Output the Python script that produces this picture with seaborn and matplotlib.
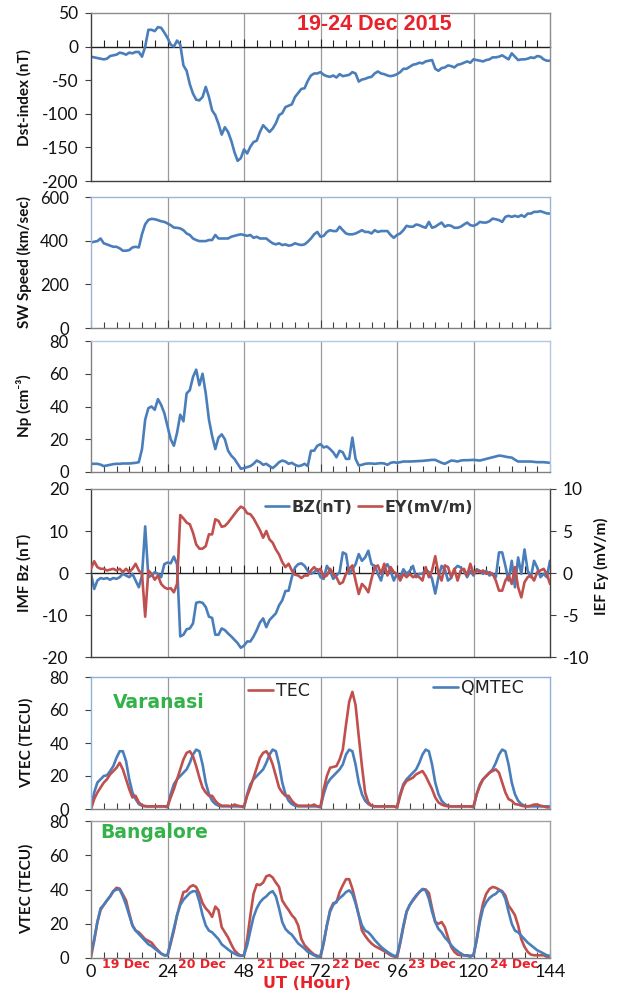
import numpy as np
import pandas as pd
import matplotlib
matplotlib.use("Agg")
import matplotlib.pyplot as plt
import matplotlib.transforms as mtransforms
from matplotlib.ticker import MultipleLocator
import seaborn as sns

# ---------------- data ----------------
hours = list(range(145))

dst = [-15,-16,-17,-18,-19,-18,-14,-13,-12,-9,
       -10,-12,-9,-10,-8,-8,-15,0,25,25,
       23,29,28,21,13,3,0,9,3,-28,
       -36,-56,-70,-79,-80,-75,-60,-75,-95,-102,
       -115,-131,-120,-127,-140,-157,-170,-166,-153,-159,
       -149,-142,-140,-127,-117,-122,-127,-122,-114,-102,
       -99,-90,-88,-86,-75,-69,-63,-62,-51,-43,
       -40,-40,-38,-42,-44,-45,-43,-46,-41,-44,
       -43,-42,-38,-40,-52,-49,-48,-46,-45,-40,
       -37,-40,-41,-43,-44,-43,-41,-38,-33,-33,
       -30,-27,-26,-24,-25,-22,-21,-20,-33,-36,
       -32,-31,-28,-29,-31,-27,-26,-24,-22,-24,
       -19,-20,-21,-22,-20,-19,-16,-16,-15,-13,
       -16,-19,-10,-15,-20,-19,-19,-18,-16,-17,
       -14,-15,-19,-21,-21]

sw_speed = [392,395,398,410,388,383,377,372,372,365,
            354,354,357,369,372,369,430,475,495,500,
            498,494,489,486,479,471,460,459,456,448,
            433,426,410,403,398,398,398,403,403,426,
            410,410,410,410,418,422,426,429,426,422,
            426,413,418,410,410,410,398,388,383,388,
            380,383,377,380,388,383,380,383,395,410,
            429,440,418,422,440,448,444,444,464,448,
            433,429,429,433,440,448,440,440,433,448,
            440,444,444,444,426,413,426,433,448,468,
            464,464,474,471,464,459,486,459,464,474,
            483,464,471,468,459,459,464,474,483,471,
            468,474,486,483,483,489,501,498,494,486,
            509,514,509,514,509,517,509,524,524,532,
            532,535,530,525,524]

np_density = [5,5,5,4.5,3.6,4,4.4,4.8,5,5,
              5.2,5.2,5.2,5.4,5.6,6,14,32,39,40,
              38,44.5,41,36,28,20,16,24,35,31,
              48,50,58,62.5,53,60,48,32,22,14,
              21,23,20,13,10,8,5,2,2.4,3,
              3.6,5,7,6,4.4,5,3.6,2.4,4,6,
              7,6.4,5,5.6,4.4,3.6,4,5,3.6,13,
              13,16,17,15,15.6,14,12,9,13,12,
              8,8,21,8,4,4.4,5,5.2,5.2,5,
              5.2,5.4,5.2,4.4,5.6,6,5.6,6,6.4,6.4,
              6.4,6.5,6.6,6.7,6.8,7,7.2,7.4,7.4,6.5,
              5.6,5,6,7,6.8,6.4,7,7.2,7.2,7.3,
              7.4,7.2,7,7.5,8,8.5,9,9.5,10,9.8,
              9.4,9,8.8,7.5,6.4,6.4,6.4,6.4,6.4,6.2,
              6,6,6,5.8,5.6]

imf_bz = [-0.2,-3.8,-1.8,-1.2,-1.4,-1.2,-1.6,-1.2,-1.4,-1,
          -0.2,-0.6,-1,-0.2,-1.8,-3.4,-0.6,11.1,-1,-0.6,
          0.2,-0.2,-1,2.1,2.5,2.3,3.9,2.1,-15.1,-14.7,
          -13.4,-13.2,-12,-7.1,-6.9,-7.1,-8.1,-10.4,-10.7,-14.7,
          -14.7,-13.2,-13.6,-14.4,-15.1,-15.9,-16.7,-17.8,-17.3,-16.3,
          -16.3,-15.1,-13.6,-11.8,-10.8,-12.9,-11.2,-10.4,-9.6,-7.7,
          -6.5,-4.3,-4.2,-1,1.3,2.1,2.3,1.7,0.5,-0.2,
          0.2,0.9,-1,-1.4,1.7,0.5,-1.4,-0.6,0.2,4.9,
          4.5,-0.2,0.9,2.1,4.5,2.9,3.7,5.3,2.1,1.7,
          -0.2,-1.8,1.3,2.1,0.5,-1.8,-0.2,-1,0.9,-0.2,
          0.5,1.7,-1,-0.2,-0.2,0.9,0.2,-1.4,-4.9,-1,
          1.7,0.9,-1.8,-1.2,0.9,1.7,1.3,0.5,-1,0.5,
          -0.6,0.9,0.5,-0.2,0.5,-0.6,-0.2,-1,4.9,4.9,
          1.7,-1.8,2.9,-3.4,3.7,-0.2,5.6,0.5,-1,2.9,
          1.3,-1,-0.2,-1,2.9]

ief_ey = [0.5,1.4,0.7,0.5,0.5,0.3,0.4,0.5,0.3,0.5,
          0.1,0.5,0.1,0.5,1.1,0.3,-0.1,-5.2,0.3,-0.1,
          -0.8,-0.3,-1.3,-1.7,-1.9,-1.8,-2.3,-1.3,6.9,6.5,
          6,5.8,4.8,3.4,2.9,2.9,3.2,4.6,4.6,6.4,
          6.2,5.5,5.6,6,6.5,7,7.5,7.9,7.7,7.1,
          7,6.5,5.8,5.1,4.2,5,4,3.6,2.8,2.2,
          1.3,0.7,1.1,0.3,-0.2,-0.3,-0.6,-0.3,-0.3,0.3,
          0.7,0.3,0.5,-0.5,-0.3,0.5,-0.1,-0.5,-1.3,-1.1,
          -0.1,0.5,0.9,-0.9,-2.5,-1.3,-1.7,-2.3,-0.7,0.7,
          0.9,-0.1,1.1,-0.3,0.7,0.1,-0.1,-0.9,-0.1,-0.5,
          -0.1,-0.5,-0.3,-0.5,-0.9,0.7,-0.5,0.3,2,-0.1,
          -0.9,0.9,0.7,-0.5,0.5,-0.9,0.3,0.5,-0.3,1.1,
          -0.1,0.3,0.1,0.3,-0.1,0.1,-0.1,-0.9,-2.1,-2.1,
          -0.9,-0.3,-1.3,0.7,-1.7,-2.9,-1.1,-0.5,-0.3,-0.9,
          0.1,0.3,0.5,-0.1,-1.3]

tec_varanasi = [0,6,10,13,16,18,21,23,25,28,24,18,12,7,8,4,2.2,1.8,1.6,1.6,1.6,1.6,1.6,1.6,
                1.6,7,12,18,24,30,34,35,32,26,19,13,10,8,8,5,3,2,2,2,1.6,2.7,2,1.6,
                1.6,8,13,19,25,31,34,35,32,27,20,13,10,8,8,5,3,2,2,2,2,2,2.7,1.6,
                1.6,12,20,25,25.5,26,30,36,51,65,71,63,44,26,10,4,2,1.6,1.6,1.6,1.6,1.6,1.6,1.6,
                1,8,14,17,18,19,21,22,23,20,16,12,7,4,2.7,2,1.6,1.6,1.6,1.6,1.6,1.6,1.6,1.6,
                1.6,9,14,18,20,22,23,24,22,16,10,6,5,3,2.7,2,1.6,1.6,2,2.7,2.7,2,1.6,1,
                1]

qmtec_varanasi = [0,10,16,18,20,20.4,23,26,31,35,35,29,18,10,6,3,2,1.6,1.6,1.6,1.6,1.6,1.6,1.6,
                  1,9,15,18,20,22,24,28,33,36,35,27,16,9,5,3,2,1.6,1.6,1.6,1.6,1.6,1.6,1.6,
                  1,9,15,18,20,22,24,28,33,36,35,27,16,9,5,3,2,1.6,1.6,1.6,1.6,1.6,1.6,1.6,
                  1,9,15,18,20,22,24,27,33,36,35,27,16,9,5,3,2,1.6,1.6,1.6,1.6,1.6,1.6,1.6,
                  1,9,15,18,20,22,24,28,33,36,35,27,16,9,5,3,2,1.6,1.6,1.6,1.6,1.6,1.6,1.6,
                  1,9,15,18,20,22,24,28,33,36,35,27,16,9,5,3,2,1.6,1.6,1.6,1.6,1.6,1.6,1.6,
                  1.6]

tec_bangalore = [0.7,10,21,28,31,33.6,36,39,41,40.5,37,33.6,26,19,16,15,13,11,10,9,6.5,4.5,2.6,1.6,
                 1.6,8.5,16,25,32,38.5,39,41.5,42.5,41.5,37.5,32,29,27,24,30,28,18,15,12,8,4.5,2.6,1.3,
                 1.6,11,25,37.5,43,42.6,44,47.7,48.4,47,44,41.5,33.6,30.6,28,25,23,19,11,7.5,5.5,3.6,2,1.3,
                 0.7,8.5,19,28,32,32.5,38.5,42.5,46,46,40.5,33,25,16,13,10.5,8.5,7,6,5,4,2.8,1.6,0.9,
                 0.1,8.5,18,27,31,33.6,36,38.5,40.3,40,38,29,21,20,21,18,12,6.5,3.6,2,1.6,1.6,1.6,1.3,
                 1.6,11,23,32,37.5,40.3,41.5,41,40,39,36.5,30.6,28,25,19,11,6.5,3.6,2,1.6,1.6,1.6,1.6,0.7,
                 0.7]

qmtec_bangalore = [2.6,11,21,29,31,33.6,36,39,40,40,36,31,25,19,16,14,12,10,8,7,5.5,4,2.6,1.6,
                   1.6,9.4,17,25,31,34,36,38,39,39,33,25,19,16,15,13,11,8,6.5,5,3.6,2.6,1.6,1.3,
                   1.6,7.5,16,24,29,32.5,34.6,36,38,39,36,29,21,17,15,13.6,11,8.5,7,5.5,3.6,2.6,1.6,0.7,
                   1.3,9.4,19,27,31,33,35,36.5,38.5,39.5,37.5,32,25,19,16,15,13,10.5,8.5,6.5,5,3.6,2.4,1.3,
                   1.3,9.4,19,27,31,34,36.5,38.5,40,39.5,34.6,27,21,17,15,12,10,7.5,5.5,4,2.6,1.6,1.3,0.7,
                   1.6,10.4,21,29,32.6,35,36.5,37.5,39.5,38.5,34.6,27,20,16,15,13,11,9,7.5,6,4.5,3.6,2.6,1.6,
                   1.3]

day_labels = ["19 Dec", "20 Dec", "21 Dec", "22 Dec", "23 Dec", "24 Dec"]
x_ticks = [0, 24, 48, 72, 96, 120, 144]

df = pd.DataFrame({"hour": hours, "dst": dst, "sw": sw_speed, "np": np_density,
                   "bz": imf_bz, "ey": ief_ey,
                   "tec_v": tec_varanasi, "qm_v": qmtec_varanasi,
                   "tec_b": tec_bangalore, "qm_b": qmtec_bangalore})

# ---------------- style ----------------
sns.set_theme(style="white")
plt.rcParams['font.family'] = ['Lato', 'DejaVu Sans']
plt.rcParams['axes.unicode_minus'] = False

BLUE = "#4a7ebb"
RED = "#c0504d"
TITLE_RED = "#e8212b"
GREEN = "#33b24a"
LW = 1.9

W, H = 618, 993
fig = plt.figure(figsize=(W / 100, H / 100), dpi=100)
fig.patch.set_facecolor("white")

LEFT, RIGHT = 91, 550


def add_ax(top, bottom):
    return fig.add_axes([LEFT / W, 1 - bottom / H, (RIGHT - LEFT) / W, (bottom - top) / H])


def base_style(ax, ylim, ystep, spine_cols, ypad=12, zero_axis=None, ysize=12):
    ax.set_xlim(0, 144)
    ax.set_ylim(*ylim)
    ax.set_yticks(np.arange(ylim[0], ylim[1] + 0.01, ystep))
    ax.tick_params(axis="y", which="major", left=True, direction="out", length=4,
                   width=0.8, color="#404040", labelsize=ysize, pad=ypad, labelcolor="#111111")
    for x in x_ticks[1:-1]:
        ax.axvline(x, color="#9a9a9a", lw=0.9, zorder=0)
    for side, c in spine_cols.items():
        ax.spines[side].set_color(c)
        ax.spines[side].set_linewidth(1.0)
    ax.set_xticks(x_ticks)
    ax.xaxis.set_minor_locator(MultipleLocator(4))
    ax.set_xlabel("")
    ax.set_ylabel("")
    if zero_axis is None:
        ax.tick_params(axis="x", which="both", bottom=True, direction="in",
                       color="#404040", labelbottom=False)
        ax.tick_params(axis="x", which="major", length=6, width=0.8)
        ax.tick_params(axis="x", which="minor", length=4, width=0.8)
    else:
        ax.tick_params(axis="x", which="both", bottom=False, labelbottom=False)
        sec = ax.secondary_xaxis(zero_axis)
        sec.set_xticks(x_ticks)
        sec.xaxis.set_minor_locator(MultipleLocator(4))
        sec.tick_params(axis="x", which="both", direction="out", color="#202020",
                        labeltop=False, labelbottom=False)
        sec.tick_params(axis="x", which="major", length=6, width=0.8)
        sec.tick_params(axis="x", which="minor", length=5, width=0.8)
        for s in sec.spines.values():
            s.set_color("#202020")
            s.set_linewidth(1.0)


def ylabel(text, yc, xc=24):
    fig.text(xc / W, 1 - yc / H, text, rotation=90, ha="center", va="center",
             fontsize=11, fontweight="bold", color="#111111", family=["Lato", "DejaVu Sans"])


# ---- Panel 1: Dst ----
ax1 = add_ax(13, 181)
sns.lineplot(data=df, x="hour", y="dst", ax=ax1, color=BLUE, lw=LW)
base_style(ax1, (-200, 50), 50, {"left": "#404040", "bottom": "#404040",
                                  "top": "#8c8c8c", "right": "#8c8c8c"},
           ypad=5, zero_axis=0.8, ysize=12.5)
ylabel("Dst-index (nT)", 97)
fig.text(374 / W, 1 - 24 / H, "19-24 Dec 2015", ha="center", va="center",
         fontsize=15.5, fontweight="bold", color=TITLE_RED, family="Liberation Sans")

# ---- Panel 2: SW speed ----
ax2 = add_ax(197, 328)
sns.lineplot(data=df, x="hour", y="sw", ax=ax2, color=BLUE, lw=LW)
base_style(ax2, (0, 600), 200, {"left": "#9db4d3", "bottom": "#808080",
                                 "top": "#9db4d3", "right": "#9db4d3"})
ylabel("SW Speed (km/sec)", 262)

# ---- Panel 3: Np ----
ax3 = add_ax(341, 472)
sns.lineplot(data=df, x="hour", y="np", ax=ax3, color=BLUE, lw=LW)
base_style(ax3, (0, 80), 20, {"left": "#808080", "bottom": "#808080",
                               "top": "#b3c7e3", "right": "#b3c7e3"})
ylabel("Np (cm\u207b\u00b3)", 406)

# ---- Panel 4: IMF Bz / IEF Ey ----
ax4 = add_ax(489, 657)
n0 = len(ax4.lines)
sns.lineplot(data=df, x="hour", y="bz", ax=ax4, color=BLUE, lw=LW)
bz_line = ax4.lines[n0]
base_style(ax4, (-20, 20), 10, {"left": "#404040", "bottom": "#404040",
                                 "top": "#8c8c8c", "right": "#404040"},
           zero_axis=0.5, ysize=12.5)
ax4b = ax4.twinx()
n1 = len(ax4b.lines)
sns.lineplot(data=df, x="hour", y="ey", ax=ax4b, color=RED, lw=LW)
ey_line = ax4b.lines[n1]
ax4b.set_ylim(-10, 10)
ax4b.set_yticks([-10, -5, 0, 5, 10])
ax4b.set_ylabel("")
ax4b.tick_params(axis="y", right=True, direction="out", length=4, width=0.8,
                 color="#404040", labelsize=12.5, pad=5, labelcolor="#111111")
for s in ax4b.spines.values():
    s.set_visible(False)
ylabel("IMF Bz (nT)", 573)
fig.text(601 / W, 1 - 566 / H, "IEF Ey (mV/m)", rotation=90, ha="center", va="center",
         fontsize=11, fontweight="bold", color="#111111", family=["Lato", "DejaVu Sans"])
ax4b.legend(handles=[bz_line, ey_line], labels=["BZ(nT)", "EY(mV/m)"], ncol=2,
            loc="center left", bbox_to_anchor=((265 - LEFT) / (RIGHT - LEFT), (657 - 507) / 168),
            frameon=False, handlelength=1.5, handletextpad=0.15, columnspacing=0.35,
            borderpad=0, borderaxespad=0,
            prop={"family": "DejaVu Sans", "weight": "bold", "size": 11.5},
            labelcolor="#333333")

# ---- Panel 5: Varanasi ----
ax5 = add_ax(677, 809)
n0 = len(ax5.lines)
sns.lineplot(data=df, x="hour", y="qm_v", ax=ax5, color=BLUE, lw=LW)
qmv_line = ax5.lines[n0]
sns.lineplot(data=df, x="hour", y="tec_v", ax=ax5, color=RED, lw=LW)
tecv_line = ax5.lines[n0 + 1]
base_style(ax5, (0, 80), 20, {"left": "#8fb0d8", "bottom": "#808080",
                               "top": "#8fb0d8", "right": "#8fb0d8"})
ylabel("VTEC (TECU)", 743, xc=26)
leg_tec = ax5.legend(handles=[tecv_line], labels=["TEC"], loc="center left",
                     bbox_to_anchor=((248 - LEFT) / (RIGHT - LEFT), (809 - 691) / 132),
                     frameon=False, handlelength=1.45, handletextpad=0.15,
                     borderpad=0, borderaxespad=0,
                     prop={"family": "DejaVu Sans", "size": 12.5}, labelcolor="#222222")
ax5.add_artist(leg_tec)
ax5.legend(handles=[qmv_line], labels=["QMTEC"], loc="center left",
           bbox_to_anchor=((433 - LEFT) / (RIGHT - LEFT), (809 - 688) / 132),
           frameon=False, handlelength=1.45, handletextpad=0.15,
           borderpad=0, borderaxespad=0,
           prop={"family": "DejaVu Sans", "size": 12.5}, labelcolor="#222222")
ax5.text((113 - LEFT) / (RIGHT - LEFT), (809 - 703) / 132, "Varanasi", transform=ax5.transAxes,
         ha="left", va="center", fontsize=13.5, fontweight="bold", color=GREEN,
         family="DejaVu Sans")

# ---- Panel 6: Bangalore ----
ax6 = add_ax(821, 958)
sns.lineplot(data=df, x="hour", y="tec_b", ax=ax6, color=RED, lw=LW)
sns.lineplot(data=df, x="hour", y="qm_b", ax=ax6, color=BLUE, lw=LW)
base_style(ax6, (0, 80), 20, {"left": "#808080", "bottom": "#808080",
                               "top": "#a0a0a0", "right": "#a0a0a0"})
ax6.tick_params(axis="x", which="major", labelbottom=True, labelsize=13, pad=4,
                labelcolor="#111111")
ylabel("VTEC (TECU)", 889, xc=26)
ax6.text((100 - LEFT) / (RIGHT - LEFT), (958 - 833) / 137, "Bangalore", transform=ax6.transAxes,
         ha="left", va="center", fontsize=13.5, fontweight="bold", color=GREEN,
         family="DejaVu Sans")
trans = mtransforms.blended_transform_factory(ax6.transData, ax6.transAxes)
for lab, xs in zip(day_labels, [3.3, 27.2, 52, 75.6, 99.5, 125.3]):
    ax6.text(xs, -(965 - 958) / 137, lab, transform=trans, ha="left", va="center",
             fontsize=9, fontweight="bold", color=TITLE_RED, family="DejaVu Sans",
             clip_on=False, zorder=1)
fig.text(307 / W, 1 - 983 / H, "UT (Hour)", ha="center", va="center", fontsize=11.5,
         fontweight="bold", color=TITLE_RED, family="DejaVu Sans")

fig.savefig("out.png", dpi=100, facecolor="white")
